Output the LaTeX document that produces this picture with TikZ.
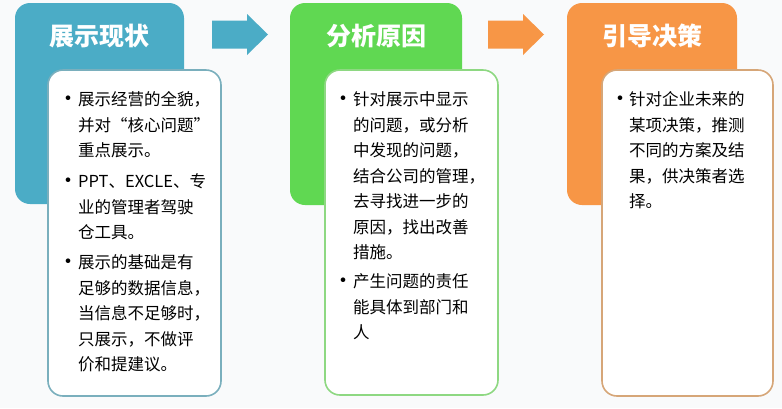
\documentclass[tikz,border=0pt]{standalone}
\usepackage{fontspec}
\newfontfamily\cjk{Noto Sans CJK SC}
\definecolor{showBlue}{HTML}{4BACC6}
\definecolor{showLine}{HTML}{7AAFBD}
\definecolor{whyGreen}{HTML}{60D852}
\definecolor{whyLine}{HTML}{8ED882}
\definecolor{aimOrange}{HTML}{F79646}
\definecolor{aimLine}{HTML}{D6A678}
\definecolor{paper}{HTML}{F9FAFB}

\begin{document}
\begin{tikzpicture}[x=1pt,y=-1pt,
    head/.style={rounded corners=15pt},
    card/.style={rounded corners=15pt, fill=white, line width=1.6pt},
    title/.style={text=white, inner sep=0pt, font=\cjk\bfseries\fontsize{25}{30}\selectfont},
    item/.style={anchor=north west, inner sep=0pt, align=left, font=\cjk\fontsize{16.5}{25.5}\selectfont},
    dot/.style={inner sep=0pt, font=\cjk\bfseries\fontsize{16.5}{25.5}\selectfont}]
    \fill[paper] (0,0) rectangle (782,408);
    \useasboundingbox (0,0) rectangle (782,408);

    % column 1
    \fill[showBlue, head] (15,3) rectangle (184,204);
    \filldraw[showLine, card] (48,70) rectangle (221,396);
    \node[title] (showTitle) at (99,36) {展示现状};
    \node[dot] (showDotA) at (68,100) {•};
    \node[item] (showItemA) at (78,91.5) {展示经营的全貌，\\并对“核心问题”\\重点展示。};
    \node[dot] (showDotB) at (68,182) {•};
    \node[item] (showItemB) at (78,173.5) {PPT、EXCLE、专\\业的管理者驾驶\\仓工具。};
    \node[dot] (showDotC) at (68,263) {•};
    \node[item] (showItemC) at (78,254.5) {展示的基础是有\\足够的数据信息，\\当信息不足够时，\\只展示，不做评\\价和提建议。};
    \coordinate (showArrow) at (212,34.5);
    \fill[showBlue] (showArrow) ++(0,-14) -- ++(35,0) -- ++(0,-6.5) -- ++(21,20.5)
        -- ++(-21,20.5) -- ++(0,-6.5) -- ++(-35,0) -- cycle;

    % column 2
    \fill[whyGreen, head] (290,3) rectangle (462,205);
    \filldraw[whyLine, card] (325,70) rectangle (498,395);
    \node[title] (whyTitle) at (376,36) {分析原因};
    \node[dot] (whyDotA) at (343,100) {•};
    \node[item] (whyItemA) at (353,91.5) {针对展示中显示\\的问题，或分析\\中发现的问题，\\结合公司的管理，\\去寻找进一步的\\原因，找出改善\\措施。};
    \node[dot] (whyDotB) at (343,282) {•};
    \node[item] (whyItemB) at (353,273.5) {产生问题的责任\\能具体到部门和\\人};
    \coordinate (whyArrow) at (488,34.5);
    \fill[aimOrange] (whyArrow) ++(0,-14) -- ++(35,0) -- ++(0,-6.5) -- ++(21,20.5)
        -- ++(-21,20.5) -- ++(0,-6.5) -- ++(-35,0) -- cycle;

    % column 3
    \fill[aimOrange, head] (567,3) rectangle (737,205);
    \filldraw[aimLine, card] (602,70) rectangle (773,396);
    \node[title] (aimTitle) at (652,36) {引导决策};
    \node[dot] (aimDotA) at (620,100) {•};
    \node[item] (aimItemA) at (629,91.5) {针对企业未来的\\某项决策，推测\\不同的方案及结\\果，供决策者选\\择。};
\end{tikzpicture}
\end{document}
